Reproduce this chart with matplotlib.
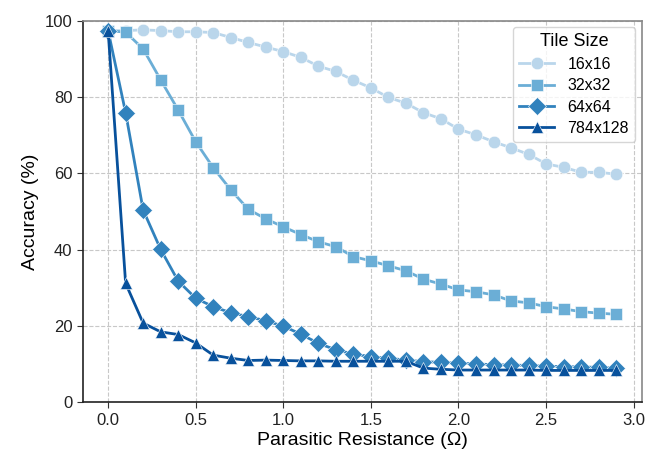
import numpy as np
import matplotlib
matplotlib.use("Agg")
import matplotlib.pyplot as plt

plt.rcParams["font.family"] = ["Liberation Sans", "DejaVu Sans"]

# valores
resistance = [0.0, 0.1, 0.2, 0.3, 0.4, 0.5, 0.6, 0.7, 0.8, 0.9,
              1.0, 1.1, 1.2, 1.3, 1.4, 1.5, 1.6, 1.7, 1.8, 1.9,
              2.0, 2.1, 2.2, 2.3, 2.4, 2.5, 2.6, 2.7, 2.8, 2.9]
acc_16 = [97.4, 97.4, 97.6, 97.4, 97.1, 97.1, 96.9, 95.6, 94.3, 93.1,
          91.9, 90.4, 88.1, 86.7, 84.4, 82.4, 79.9, 78.4, 75.9, 74.3,
          71.6, 70.1, 68.3, 66.7, 65.0, 62.5, 61.6, 60.3, 60.3, 59.8]
acc_32 = [97.4, 97.0, 92.6, 84.5, 76.6, 68.3, 61.5, 55.7, 50.6, 48.1,
          46.0, 44.0, 42.1, 40.8, 38.2, 37.1, 35.8, 34.5, 32.3, 31.0,
          29.5, 29.0, 28.2, 26.6, 26.1, 25.1, 24.5, 23.8, 23.4, 23.1]
acc_64 = [97.4, 75.9, 50.4, 40.1, 31.8, 27.3, 25.1, 23.5, 22.5, 21.4,
          20.0, 17.9, 15.5, 13.8, 12.7, 12.0, 11.6, 11.1, 10.7, 10.5,
          10.3, 10.1, 9.9, 9.8, 9.7, 9.5, 9.4, 9.3, 9.2, 9.0]
acc_784 = [97.4, 31.2, 20.8, 18.5, 17.8, 15.6, 12.4, 11.6, 11.0, 11.1,
           11.0, 10.9, 10.9, 10.8, 10.8, 10.8, 10.8, 10.8, 9.0, 8.7,
           8.5, 8.5, 8.5, 8.5, 8.5, 8.4, 8.4, 8.4, 8.4, 8.4]

series = [
    ("16x16", acc_16, "o", "#bad6eb"),
    ("32x32", acc_32, "s", "#6baed6"),
    ("64x64", acc_64, "D", "#3182bd"),
    ("784x128", acc_784, "^", "#08519c"),
]

fig = plt.figure(figsize=(6.58, 4.53), dpi=100)
ax = fig.add_axes([0.1257, 0.1115, 0.8493, 0.8428])

for label, acc, mk, col in series:
    ax.plot(resistance, acc, marker=mk, color=col, lw=2.0, ms=9,
            mec="white", mew=0.4, label=label)

ax.set_ylim(0, 100)
ax.set_xticks([0.0, 0.5, 1.0, 1.5, 2.0, 2.5, 3.0])
ax.set_yticks([0, 20, 40, 60, 80, 100])
ax.tick_params(labelsize=12, length=4, color="#333333", labelcolor="#222222")
ax.grid(True, ls="--", color="#c8c8c8", lw=0.8)
ax.set_axisbelow(True)

ax.spines["left"].set_color("#222222")
ax.spines["bottom"].set_color("#222222")
ax.spines["top"].set_color("#888888")
ax.spines["right"].set_color("#888888")
for s in ax.spines.values():
    s.set_linewidth(1.2)

ax.set_xlabel("Parasitic Resistance (Ω)", fontsize=14, labelpad=3)
ax.set_ylabel("Accuracy (%)", fontsize=14)

leg = ax.legend(title="Tile Size", loc="upper right", fontsize=11.5,
                title_fontsize=13, frameon=True, fancybox=True,
                handlelength=2.2, borderaxespad=0.4, labelspacing=0.4)
leg.get_frame().set_edgecolor("#cccccc")

fig.savefig("out.png", dpi=100)
